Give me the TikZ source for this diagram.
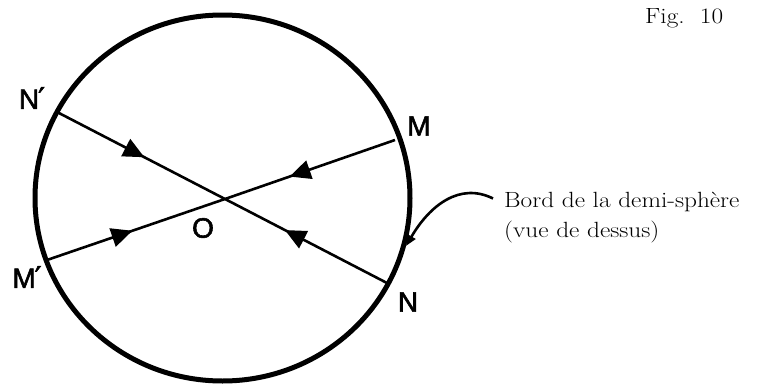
\documentclass[tikz,border=0pt]{standalone}
\usepackage{fontspec}
\usepackage{graphicx}
\usetikzlibrary{arrows.meta,decorations.markings}
\newfontfamily\labfont[FakeBold=2]{Liberation Sans}
\newfontfamily\primefont[FakeBold=2]{DejaVu Sans}
\begin{document}
\begin{tikzpicture}[x=1pt,y=-1pt,
  rim/.style={line width=5pt},
  ray/.style={line width=2.6pt},
  lab/.style={font=\labfont\fontsize{28pt}{30pt}\selectfont, inner sep=0pt},
  midarrow/.style={postaction={decorate},
    decoration={markings,mark=at position #1 with {\arrow{Triangle[length=21pt,width=19pt]}}}},
  txt/.style={font=\fontsize{22pt}{26pt}\selectfont, inner sep=0pt, anchor=base west},
  pointer/.style={line width=2.6pt,-{Triangle[length=11pt,width=9pt]}}]
\useasboundingbox (0,0) rectangle (764,386);
% rim of the hemisphere
\coordinate (C) at (222.5,198);
\draw[rim] (C) ellipse [x radius=187.5pt, y radius=183pt];
% points
\coordinate (O) at (225,199);
\coordinate (M) at (395,140);
\coordinate (Mp) at (47,260);
\coordinate (N) at (387,283);
\coordinate (Np) at (57,112);
% rays, all pointing towards O
\draw[ray,midarrow=0.62] (M) -- (O);
\draw[ray,midarrow=0.48] (Mp) -- (O);
\draw[ray,midarrow=0.63] (N) -- (O);
\draw[ray,midarrow=0.52] (Np) -- (O);
% labels
\node[lab] (lM) at (419,126) {M};
\node[lab] (lN) at (408,302) {N};
\node[lab] (lO) at (203,228) {O};
\node[lab] (lNp) at (32,98) {N\kern-1pt{\primefont\fontsize{30pt}{30pt}\selectfont ′}};
\node[lab] (lMp) at (27,277) {M\kern-1pt{\primefont\fontsize{30pt}{30pt}\selectfont ′}};
% caption texts
\node[txt] (fig) at (645,23) {\scalebox{1.15}[1]{Fig.\ \ 10}};
\node[txt] (t1) at (504,207) {\scalebox{1.15}[1]{Bord de la demi-sphère}};
\node[txt] (t2) at (504,237) {\scalebox{1.15}[1]{(vue de dessus)}};
% pointer to the rim
\coordinate (tip) at (406,246);
\draw[pointer] ([xshift=-11pt,yshift=3pt]t1.west) .. controls (460,182) and (430,205) .. (tip);
\end{tikzpicture}
\end{document}
